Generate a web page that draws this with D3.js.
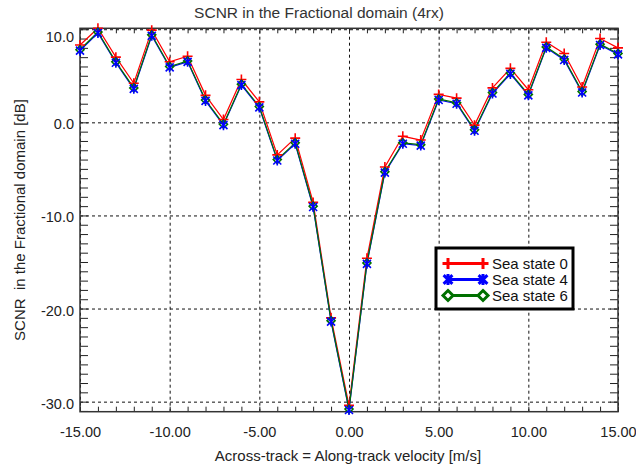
<!DOCTYPE html>
<html>
<head>
<meta charset="utf-8">
<script src="https://cdn.jsdelivr.net/npm/d3@7"></script>
<style>
  body { margin: 0; background: #fff; }
  svg { font-family: "Liberation Sans", Arial, sans-serif; }
  .tick text { fill: #222; }
</style>
</head>
<body>
<svg width="636" height="469"></svg>
<script>
// velocities [m/s]
const velocity = d3.range(-15, 16);
// SCNR [dB] per sea state
const seaState0 = [8.3, 10.1, 7.0, 4.2, 9.9, 6.5, 7.1, 2.9, 0.3, 4.6, 2.2, -3.5, -1.7, -8.6, -21.0, -30.4,
  -14.6, -4.8, -1.5, -1.9, 3.0, 2.6, -0.3, 3.7, 5.8, 3.5, 8.6, 7.4, 3.8, 9.0, 8.0];
const seaState4 = [7.7, 9.6, 6.4, 3.6, 9.3, 5.9, 6.5, 2.3, -0.3, 4.0, 1.6, -4.1, -2.3, -9.1, -21.4, -30.9,
  -15.2, -5.4, -2.3, -2.5, 2.4, 2.0, -0.9, 3.1, 5.2, 2.9, 8.0, 6.7, 3.2, 8.3, 7.3];
const seaState6 = [7.8, 9.7, 6.5, 3.7, 9.4, 6.0, 6.6, 2.4, -0.2, 4.1, 1.7, -4.0, -2.2, -9.0, -21.3, -30.8,
  -15.1, -5.3, -2.2, -2.4, 2.5, 2.1, -0.8, 3.2, 5.3, 3.0, 8.1, 6.8, 3.3, 8.4, 7.4];
const seriesNames = ["Sea state 0", "Sea state 4", "Sea state 6"];
const xTicks = [-15, -10, -5, 0, 5, 10, 15];
const yTicks = [-30, -20, -10, 0, 10];

const svg = d3.select("svg");
const plot = {left: 80, right: 618, top: 28.3, bottom: 411.7};

const x = d3.scaleLinear().domain([-15, 15]).range([plot.left, plot.right]);
const y = d3.scaleLinear().domain([-31.08, 10.1]).range([plot.bottom, plot.top]);

const series = [
  {name: seriesNames[0], values: seaState0, color: "#ff0000", symbol: "plus"},
  {name: seriesNames[1], values: seaState4, color: "#0000ff", symbol: "star"},
  {name: seriesNames[2], values: seaState6, color: "#007000", symbol: "diamond"}
];

const symbols = {
  plus: s => `M${-s},0H${s}M0,${-s}V${s}`,
  star: s => `M${-s * 0.8},${-s * 0.8}L${s * 0.8},${s * 0.8}M${-s * 0.8},${s * 0.8}L${s * 0.8},${-s * 0.8}M0,${-s}V${s}`,
  diamond: s => `M0,${-s}L${s},0L0,${s}L${-s},0Z`
};

// IDL-style labels with a plain hyphen
const fmt = p => d => d3.format(`.${p}f`)(d).replace("\u2212", "-");

// grid
const grid = svg.append("g").attr("class", "grid");
grid.append("g")
  .attr("transform", `translate(0,${plot.bottom})`)
  .call(d3.axisBottom(x).tickValues(xTicks).tickSize(-(plot.bottom - plot.top)).tickFormat(""));
grid.append("g")
  .attr("transform", `translate(${plot.left},0)`)
  .call(d3.axisLeft(y).tickValues(yTicks).tickSize(-(plot.right - plot.left)).tickFormat(""));
grid.selectAll(".domain").remove();
grid.selectAll(".tick line")
  .attr("stroke", "#111")
  .attr("stroke-width", 1)
  .attr("stroke-dasharray", "3,3");

// minor ticks on all four sides
const xMinor = d3.range(-15, 16);
const yMinor = d3.range(-31, 11);
const minor = svg.append("g").attr("class", "minor");
minor.append("g").attr("transform", `translate(0,${plot.bottom})`)
  .call(d3.axisBottom(x).tickValues(xMinor).tickSize(-5).tickFormat(""));
minor.append("g").attr("transform", `translate(0,${plot.top})`)
  .call(d3.axisTop(x).tickValues(xMinor).tickSize(-5).tickFormat(""));
minor.append("g").attr("transform", `translate(${plot.left},0)`)
  .call(d3.axisLeft(y).tickValues(yMinor).tickSize(-8).tickFormat(""));
minor.append("g").attr("transform", `translate(${plot.right},0)`)
  .call(d3.axisRight(y).tickValues(yMinor).tickSize(-8).tickFormat(""));
minor.selectAll(".domain").remove();
minor.selectAll(".tick line").attr("stroke", "#222").attr("stroke-width", 1);

// frame
svg.append("rect")
  .attr("x", plot.left).attr("y", plot.top)
  .attr("width", plot.right - plot.left).attr("height", plot.bottom - plot.top)
  .attr("fill", "none").attr("stroke", "#333").attr("stroke-width", 1.5);

// tick labels
const xAxis = svg.append("g")
  .attr("transform", `translate(0,${plot.bottom})`)
  .call(d3.axisBottom(x).tickValues(xTicks).tickSize(0).tickPadding(15).tickFormat(fmt(2)));
const yAxis = svg.append("g")
  .attr("transform", `translate(${plot.left},0)`)
  .call(d3.axisLeft(y).tickValues(yTicks).tickSize(0).tickPadding(6).tickFormat(fmt(1)));
[xAxis, yAxis].forEach(a => {
  a.select(".domain").remove();
  a.selectAll("text").style("font-size", "14.5px").style("font-family", "Liberation Sans, Arial, sans-serif");
});
yAxis.selectAll(".tick text").attr("dy", d => d === 10 ? "0.85em" : "0.45em");

// series: lines first, then markers
const line = d3.line().x((d, i) => x(velocity[i])).y(d => y(d));
series.forEach(s => {
  svg.append("path")
    .datum(s.values)
    .attr("d", line)
    .attr("fill", "none")
    .attr("stroke", s.color)
    .attr("stroke-width", 1.2);
});
[series[0], series[2], series[1]].forEach(s => {
  svg.append("g").selectAll("path")
    .data(s.values)
    .enter().append("path")
    .attr("transform", (d, i) => `translate(${x(velocity[i])},${y(d)})`)
    .attr("d", symbols[s.symbol](s.symbol === "diamond" ? 4 : 5))
    .attr("fill", "none")
    .attr("stroke", s.color)
    .attr("stroke-width", 1.6);
});

// legend
const legend = svg.append("g").attr("transform", "translate(436,248)");
legend.append("rect")
  .attr("width", 137).attr("height", 61)
  .attr("fill", "#fff").attr("stroke", "#000").attr("stroke-width", 3);
const item = legend.selectAll(".item")
  .data(series)
  .enter().append("g")
  .attr("class", "item")
  .attr("transform", (d, i) => `translate(0,${15.5 + i * 16})`);
item.append("line")
  .attr("x1", 12).attr("x2", 47)
  .attr("stroke", d => d.color).attr("stroke-width", 3);
[12, 47].forEach(px => {
  item.append("path")
    .attr("transform", `translate(${px},0)`)
    .attr("d", d => symbols[d.symbol](d.symbol === "diamond" ? 5 : 5.5))
    .attr("fill", d => d.symbol === "diamond" ? "#fff" : "none")
    .attr("stroke", d => d.color)
    .attr("stroke-width", 3);
});
item.append("text")
  .attr("x", 56).attr("y", 5.5)
  .style("font-size", "15px")
  .attr("fill", "#111")
  .text(d => d.name);

// titles
svg.append("text")
  .attr("x", 319).attr("y", 18)
  .attr("text-anchor", "middle")
  .style("font-size", "15.5px")
  .attr("fill", "#333")
  .text("SCNR in the Fractional domain (4rx)");

svg.append("text")
  .attr("x", 348).attr("y", 461)
  .attr("text-anchor", "middle")
  .style("font-size", "15px")
  .attr("fill", "#222")
  .text("Across-track = Along-track velocity [m/s]");

svg.append("text")
  .attr("transform", "translate(25,220) rotate(-90)")
  .attr("text-anchor", "middle")
  .style("font-size", "15px")
  .style("white-space", "pre")
  .attr("fill", "#222")
  .text("SCNR  in the Fractional domain [dB]");
</script>
</body>
</html>
